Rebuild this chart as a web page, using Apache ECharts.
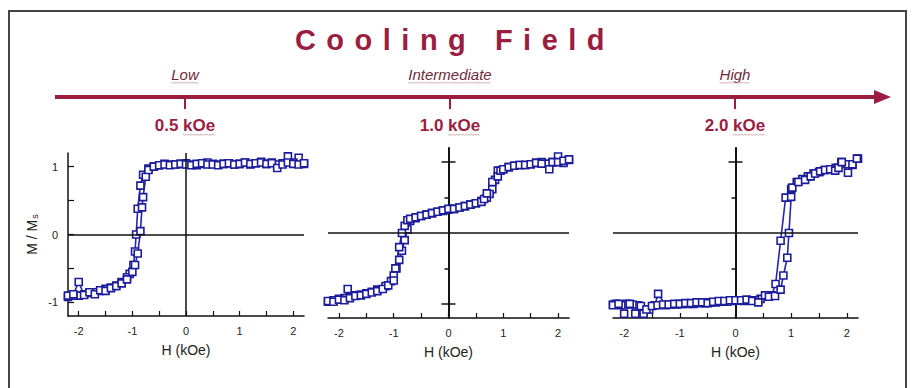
<!DOCTYPE html>
<html>
<head>
<meta charset="utf-8">
<script src="https://cdn.jsdelivr.net/npm/echarts@6/dist/echarts.min.js"></script>
<style>
html,body{margin:0;padding:0;background:#fff}
#main{width:912px;height:388px}
</style>
</head>
<body>
<div id="main"></div>
<script>
// top scale: cooling field
var fieldNames = ['Low', 'Intermediate', 'High'];
var fieldValues = ['0.5', '1.0', '2.0'];

// axis ticks / labels
var hTicks = [-2, -1.5, -1, -0.5, 0, 0.5, 1, 1.5, 2];
var hLabels = [-2, -1, 0, 1, 2];
var mTicks = [-1, -0.5, 0, 0.5, 1];
var mLabels = [-1, 0, 1];

// 0.5 kOe : [H, M/Ms]
var lowDown = [[2.2,1.04],[2.1,1.13],[2.0,1.06],[1.9,1.15],[1.8,1.05],[1.7,1.03],[1.6,1.06],[1.5,1.04],[1.4,1.07],[1.3,1.05],[1.2,1.03],[1.1,1.06],[1.0,1.04],[0.9,1.03],[0.8,1.05],[0.7,1.04],[0.6,1.03],[0.5,1.04],[0.4,1.06],[0.3,1.04],[0.2,1.02],[0.1,1.03],[0.0,1.05],[-0.1,1.04],[-0.2,1.03],[-0.3,1.03],[-0.4,1.04],[-0.5,1.02],[-0.6,1.0],[-0.7,0.97],[-0.8,0.88],[-0.85,0.72],[-0.9,0.38],[-0.93,0.0],[-0.95,-0.25],[-0.98,-0.45],[-1.05,-0.58],[-1.1,-0.63],[-1.2,-0.7],[-1.3,-0.75],[-1.4,-0.78],[-1.5,-0.8],[-1.6,-0.83],[-1.7,-0.85],[-1.8,-0.86],[-1.9,-0.88],[-2.0,-0.9],[-2.1,-0.9],[-2.2,-0.92]];
var lowUp = [[-2.2,-0.9],[-2.1,-0.88],[-2.0,-0.7],[-1.9,-0.89],[-1.8,-0.85],[-1.7,-0.88],[-1.6,-0.82],[-1.5,-0.83],[-1.4,-0.79],[-1.3,-0.76],[-1.2,-0.72],[-1.1,-0.66],[-1.0,-0.55],[-0.95,-0.45],[-0.9,-0.28],[-0.85,0.05],[-0.82,0.4],[-0.8,0.55],[-0.75,0.85],[-0.7,0.95],[-0.6,1.0],[-0.5,1.02],[-0.4,1.03],[-0.3,1.02],[-0.2,1.03],[-0.1,1.04],[0.0,1.03],[0.1,1.02],[0.2,1.04],[0.3,1.05],[0.4,1.03],[0.5,1.03],[0.6,1.02],[0.7,1.04],[0.8,1.05],[0.9,1.03],[1.0,1.04],[1.1,1.06],[1.2,1.04],[1.3,1.05],[1.4,1.06],[1.5,1.04],[1.6,1.05],[1.7,0.98],[1.8,1.03],[1.9,1.06],[2.0,1.04],[2.1,1.03],[2.2,1.05]];

// 1.0 kOe
var midDown = [[2.2,1.03],[2.1,0.99],[2.0,1.08],[1.9,1.0],[1.8,0.98],[1.7,1.0],[1.6,0.99],[1.5,0.97],[1.4,0.96],[1.3,0.96],[1.2,0.95],[1.1,0.93],[1.0,0.9],[0.9,0.88],[0.85,0.75],[0.8,0.62],[0.75,0.55],[0.7,0.5],[0.6,0.45],[0.5,0.42],[0.4,0.4],[0.3,0.38],[0.2,0.36],[0.1,0.34],[0.0,0.33],[-0.1,0.31],[-0.2,0.3],[-0.3,0.28],[-0.4,0.26],[-0.5,0.24],[-0.6,0.21],[-0.7,0.17],[-0.75,0.05],[-0.8,-0.1],[-0.85,-0.25],[-0.9,-0.38],[-0.95,-0.5],[-1.0,-0.6],[-1.05,-0.68],[-1.15,-0.75],[-1.3,-0.8],[-1.4,-0.83],[-1.5,-0.85],[-1.6,-0.87],[-1.7,-0.88],[-1.8,-0.9],[-1.9,-0.92],[-2.0,-0.93],[-2.1,-0.95],[-2.2,-0.97]];
var midUp = [[-2.2,-0.96],[-2.1,-0.97],[-2.0,-0.94],[-1.9,-0.95],[-1.84,-0.79],[-1.8,-0.92],[-1.7,-0.89],[-1.6,-0.88],[-1.5,-0.86],[-1.4,-0.84],[-1.3,-0.82],[-1.2,-0.79],[-1.1,-0.74],[-1.0,-0.67],[-0.97,-0.5],[-0.9,-0.2],[-0.85,0.0],[-0.8,0.1],[-0.75,0.18],[-0.7,0.2],[-0.6,0.22],[-0.5,0.24],[-0.4,0.26],[-0.3,0.28],[-0.2,0.3],[-0.1,0.32],[0.0,0.34],[0.1,0.34],[0.2,0.36],[0.3,0.38],[0.4,0.4],[0.5,0.42],[0.6,0.44],[0.65,0.48],[0.7,0.56],[0.8,0.72],[0.9,0.8],[0.95,0.88],[1.0,0.9],[1.1,0.93],[1.2,0.95],[1.3,0.96],[1.4,0.96],[1.5,0.97],[1.6,0.99],[1.7,0.98],[1.84,0.9],[1.9,1.0],[2.0,1.0],[2.1,1.02],[2.2,1.04]];

// 2.0 kOe
var highDown = [[2.2,1.05],[2.1,0.96],[2.0,0.97],[1.9,1.0],[1.8,0.92],[1.7,0.9],[1.6,0.89],[1.5,0.86],[1.4,0.84],[1.3,0.8],[1.2,0.76],[1.1,0.72],[1.0,0.62],[0.9,0.5],[0.81,-0.11],[0.72,-0.72],[0.65,-0.88],[0.55,-0.9],[0.45,-0.93],[0.35,-0.95],[0.25,-0.95],[0.15,-0.96],[0.05,-0.95],[-0.05,-0.96],[-0.15,-0.97],[-0.25,-0.97],[-0.35,-0.98],[-0.45,-0.98],[-0.55,-0.99],[-0.65,-0.99],[-0.75,-1.0],[-0.85,-1.0],[-0.95,-1.0],[-1.05,-1.01],[-1.15,-1.01],[-1.25,-1.02],[-1.39,-0.86],[-1.45,-1.02],[-1.55,-1.08],[-1.65,-1.12],[-1.75,-1.02],[-1.85,-1.01],[-1.95,-1.0],[-2.05,-1.02],[-2.15,-1.0],[-2.2,-1.01]];
var highUp = [[-2.2,-1.02],[-2.1,-1.0],[-2.0,-1.14],[-1.9,-1.0],[-1.8,-1.14],[-1.7,-1.03],[-1.65,-1.14],[-1.6,-1.08],[-1.5,-1.03],[-1.4,-1.02],[-1.3,-1.01],[-1.2,-1.01],[-1.1,-1.0],[-1.0,-1.0],[-0.9,-0.99],[-0.8,-0.99],[-0.7,-0.98],[-0.6,-0.98],[-0.5,-0.99],[-0.4,-0.97],[-0.3,-0.96],[-0.2,-0.96],[-0.1,-0.95],[0.0,-0.95],[0.1,-0.95],[0.2,-0.94],[0.3,-0.96],[0.41,-0.98],[0.53,-0.88],[0.6,-0.9],[0.71,-0.89],[0.81,-0.8],[0.86,-0.6],[0.93,-0.35],[0.96,0.0],[1.0,0.51],[1.02,0.64],[1.13,0.72],[1.25,0.75],[1.35,0.8],[1.43,0.84],[1.52,0.87],[1.61,0.89],[1.7,0.9],[1.79,0.88],[1.85,0.92],[1.91,1.0],[2.02,0.85],[2.1,0.97],[2.18,1.05]];

var loops = [[lowDown, lowUp], [midDown, midUp], [highDown, highUp]];

var red = '#9b1d3f';
var axisColor = '#111';
var font = 'Liberation Sans, Arial, sans-serif';
var narrow = 'Liberation Sans Narrow, Liberation Sans, Arial, sans-serif';
var fieldX = [185, 450, 735];

var grids = [
    {left: 68, top: 153, width: 236, height: 163},
    {left: 328, top: 148, width: 241, height: 170},
    {left: 613, top: 148, width: 245, height: 170}
];

function hAxis(i){
    return {
        type: 'value', gridIndex: i, min: -2.2, max: 2.2,
        axisLine: {onZero: false, lineStyle: {color: axisColor, width: 1.5}},
        axisTick: {inside: true, length: 5, customValues: hTicks, lineStyle: {color: axisColor, width: 1.2}},
        axisLabel: {customValues: hLabels, margin: 9, fontSize: 11, color: '#222', fontFamily: font},
        splitLine: {show: false},
        name: 'H (kOe)', nameLocation: 'middle', nameGap: 27,
        nameTextStyle: {fontSize: 14, color: '#222', fontFamily: font}
    };
}
// y axis drawn through H = 0 (panels 2 and 3); H range is symmetric so 0 is mid-grid
function mAxis(i, ticks, len, inside){
    return {
        type: 'value', gridIndex: i, min: -1.2, max: 1.2, position: 'left',
        offset: -grids[i].width / 2,
        axisLine: {show: true, onZero: false, lineStyle: {color: axisColor, width: 1.5}},
        axisTick: {show: true, inside: inside, length: len, customValues: ticks, lineStyle: {color: axisColor, width: 1.5}},
        axisLabel: {show: false},
        splitLine: {show: false}
    };
}

var xAxes = [hAxis(0), hAxis(1), hAxis(2)];
var yAxes = [
    {
        type: 'value', gridIndex: 0, min: -1.2, max: 1.2,
        axisLine: {show: true, onZero: false, lineStyle: {color: axisColor, width: 1.5}},
        axisTick: {show: true, inside: true, length: 6, customValues: mTicks, lineStyle: {color: axisColor, width: 1.2}},
        axisLabel: {customValues: mLabels, margin: 10, fontSize: 11, color: '#222', fontFamily: font},
        splitLine: {show: false},
        name: 'M / M{s|s}', nameLocation: 'middle', nameGap: 29,
        nameTextStyle: {fontSize: 14, color: '#222', fontFamily: font,
            rich: {s: {fontSize: 9, color: '#222', fontFamily: font, verticalAlign: 'bottom', padding: [6, 0, 0, 1]}}}
    },
    mAxis(1, [-1, 1], 7, false), mAxis(1, [-1, 1], 7, true), mAxis(1, [-0.5, 0.5], 4, false),
    mAxis(2, [-1, 1], 7, false), mAxis(2, [-1, 1], 7, true), mAxis(2, [-0.5, 0.5], 4, false)
];
var yIndex = [0, 1, 4];

var series = [];
loops.forEach(function(pair, i){
    pair.forEach(function(branch, k){
        var s = {
            type: 'line', xAxisIndex: i, yAxisIndex: yIndex[i], data: branch,
            symbol: 'rect', symbolSize: 7, showSymbol: true, silent: true,
            itemStyle: {color: '#fff', borderColor: '#1c1c9a', borderWidth: 1.6},
            lineStyle: {color: '#2626aa', width: 1.6},
            emphasis: {disabled: true}
        };
        if (k === 0) {
            s.markLine = {
                silent: true, symbol: ['none', 'none'], label: {show: false},
                lineStyle: {color: axisColor, width: 1.5, type: 'solid'},
                data: i === 0 ? [{xAxis: 0}, {yAxis: 0}] : [{yAxis: 0}]
            };
        }
        series.push(s);
    });
});

// spell-check style wavy underline under a piece of text
var ctx = document.createElement('canvas').getContext('2d');
function textWidth(str, f){ ctx.font = f; return ctx.measureText(str).width; }
function wavy(x0, x1, y){
    var pts = [], k = 0;
    for (var x = x0; x <= x1; x += 1.5) { pts.push([x, y + (k % 2 ? 1.5 : 0)]); k++; }
    return {type: 'polyline', shape: {points: pts}, style: {stroke: '#c9959f', lineWidth: 0.8, fill: 'none'}, z: 1};
}

// header: title, arrow, field labels
var titleFont = 'bold 29px ' + font;
var nameFont = 'italic 15px ' + font;
var valueFont = 'bold 17px ' + narrow;
var graphic = [
    {type: 'rect', shape: {x: 9, y: 11, width: 897, height: 400}, style: {fill: 'none', stroke: '#444', lineWidth: 2}},
    {type: 'text', x: 455, y: 40, style: {text: 'Cooling Field', fill: red, font: titleFont, textAlign: 'center', textVerticalAlign: 'middle'}},
    {type: 'line', shape: {x1: 55, y1: 97, x2: 880, y2: 97}, style: {stroke: red, lineWidth: 4}},
    {type: 'polygon', shape: {points: [[874, 90], [891, 97], [874, 104]]}, style: {fill: red}}
];
fieldX.forEach(function(x, i){
    graphic.push({type: 'line', shape: {x1: x, y1: 97, x2: x, y2: 109}, style: {stroke: red, lineWidth: 2}});
    graphic.push({type: 'text', x: x, y: 74, style: {text: fieldNames[i], fill: '#6e2a3c', font: nameFont, textAlign: 'center', textVerticalAlign: 'middle'}});
    var wn = textWidth(fieldNames[i], nameFont);
    graphic.push(wavy(x - wn / 2, x + wn / 2, 82));
    var label = fieldValues[i] + ' kOe';
    graphic.push({type: 'text', x: x, y: 125, style: {text: label, fill: red, font: valueFont, textAlign: 'center', textVerticalAlign: 'middle'}});
    var wl = textWidth(label, valueFont), wu = textWidth('kOe', valueFont);
    graphic.push(wavy(x + wl / 2 - wu, x + wl / 2, 134));
});

var myChart = echarts.init(document.getElementById('main'), null, {renderer: 'svg'});
var option = {
    animation: false,
    backgroundColor: '#fff',
    grid: grids,
    xAxis: xAxes,
    yAxis: yAxes,
    series: series,
    graphic: graphic
};

function spaceTitle(){
    var texts = document.querySelectorAll('#main text');
    for (var i = 0; i < texts.length; i++) {
        if (texts[i].textContent === 'Cooling Field') texts[i].style.letterSpacing = '10.5px';
    }
}
myChart.on('finished', spaceTitle);
myChart.setOption(option);
setTimeout(spaceTitle, 50);
</script>
</body>
</html>
